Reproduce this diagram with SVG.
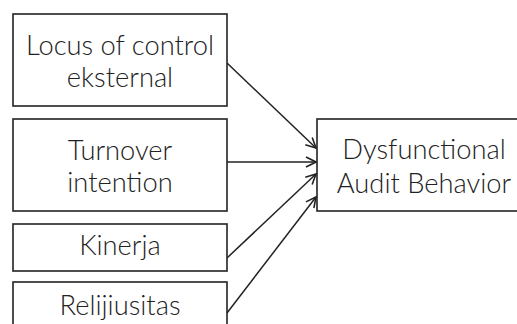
<svg xmlns="http://www.w3.org/2000/svg" width="517" height="324" viewBox="0 0 517 324">
<defs>
<style>
.box{fill:#fff;stroke:#222;stroke-width:1.6}
.t{font-family:Lato,"DejaVu Sans",sans-serif;font-weight:300;font-size:27.3px;fill:#222;text-anchor:middle}
.c{stroke:#222;stroke-width:1.5;fill:none;marker-end:url(#a)}
</style>
<marker id="a" viewBox="0 0 12 12" refX="11" refY="6" markerWidth="12" markerHeight="12" markerUnits="userSpaceOnUse" orient="auto">
<path d="M1,1 L11,6 L1,11" fill="none" stroke="#222" stroke-width="1.6"/>
</marker>
</defs>
<rect width="517" height="324" fill="#fff"/>
<g id="connectors">
<line class="c" x1="227" y1="63" x2="316" y2="148"/>
<line class="c" x1="227" y1="162" x2="316" y2="162"/>
<line class="c" x1="227" y1="258" x2="316" y2="174"/>
<line class="c" x1="227" y1="313" x2="316" y2="197"/>
</g>
<g id="locus">
<rect class="box" x="13" y="14" width="214" height="92"/>
<text class="t" x="120" y="55">Locus of control</text>
<text class="t" x="120" y="87">eksternal</text>
</g>
<g id="turnover">
<rect class="box" x="13" y="119" width="214" height="92"/>
<text class="t" x="120" y="160">Turnover</text>
<text class="t" x="120" y="192">intention</text>
</g>
<g id="kinerja">
<rect class="box" x="13" y="224" width="214" height="47"/>
<text class="t" x="120" y="255">Kinerja</text>
</g>
<g id="relijiusitas">
<rect class="box" x="13" y="282" width="214" height="60"/>
<text class="t" x="120" y="315">Relijiusitas</text>
</g>
<g id="dab">
<rect class="box" x="317" y="119" width="214" height="92"/>
<text class="t" x="424" y="159">Dysfunctional</text>
<text class="t" x="424" y="193">Audit Behavior</text>
</g>
</svg>
